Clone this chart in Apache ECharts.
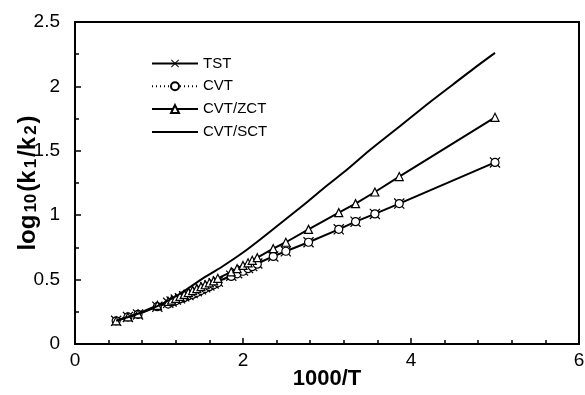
<!DOCTYPE html>
<html><head><meta charset="utf-8">
<script src="https://cdn.jsdelivr.net/npm/echarts@6/dist/echarts.min.js"></script>
<style>html,body{margin:0;padding:0;background:#fff}#c{width:585px;height:395px}</style>
</head><body><div id="c"></div>
<script>
const seriesNames = ['TST', 'CVT', 'CVT/ZCT', 'CVT/SCT'];
const xPts = [0.49, 0.63, 0.75, 0.98, 1.11, 1.15, 1.2, 1.25, 1.3, 1.35, 1.4, 1.45, 1.5, 1.55, 1.6, 1.65, 1.7, 1.86, 1.93, 2.0, 2.06, 2.11, 2.17, 2.36, 2.51, 2.78, 3.14, 3.34, 3.57, 3.86, 5.0];
const tstY = [0.18, 0.21, 0.23, 0.29, 0.32, 0.33, 0.345, 0.355, 0.37, 0.38, 0.395, 0.41, 0.425, 0.44, 0.455, 0.47, 0.485, 0.53, 0.55, 0.57, 0.59, 0.605, 0.625, 0.68, 0.72, 0.79, 0.89, 0.95, 1.01, 1.09, 1.41];
const cvtY = [0.18, 0.21, 0.23, 0.29, 0.31, 0.325, 0.335, 0.35, 0.36, 0.375, 0.385, 0.40, 0.415, 0.43, 0.445, 0.46, 0.475, 0.525, 0.545, 0.565, 0.585, 0.60, 0.62, 0.68, 0.72, 0.79, 0.89, 0.95, 1.01, 1.09, 1.41];
const zctY = [0.18, 0.21, 0.235, 0.30, 0.33, 0.34, 0.355, 0.37, 0.385, 0.40, 0.415, 0.43, 0.445, 0.46, 0.475, 0.49, 0.51, 0.56, 0.585, 0.61, 0.63, 0.65, 0.67, 0.74, 0.79, 0.89, 1.02, 1.09, 1.18, 1.30, 1.76];
const sctX = [0.49, 0.75, 1.0, 1.25, 1.5, 1.75, 2.0, 2.25, 2.5, 2.75, 3.0, 3.25, 3.5, 3.75, 4.0, 4.25, 4.5, 4.75, 5.0];
const sctY = [0.18, 0.235, 0.30, 0.39, 0.50, 0.60, 0.71, 0.835, 0.965, 1.095, 1.23, 1.36, 1.50, 1.63, 1.76, 1.89, 2.015, 2.14, 2.26];

const pair = (xs, ys) => xs.map((x, i) => [x, ys[i]]);
const FONT = '"Liberation Sans", Arial, sans-serif';
const crossPath = 'path://M0,0.8L0.8,0L5,4.2L9.2,0L10,0.8L5.8,5L10,9.2L9.2,10L5,5.8L0.8,10L0,9.2L4.2,5Z';
const plainLineIcon = 'path://M0,0L0.01,0L0.01,0.01Z M46,10L45.99,10L45.99,9.99Z M0,4H46V6H0Z';

const chart = echarts.init(document.getElementById('c'), null, {renderer: 'canvas'});
chart.setOption({
  animation: false,
  backgroundColor: '#fff',
  grid: {left: 75, right: 6, top: 22, bottom: 51, show: true, borderColor: '#000', borderWidth: 2,
         backgroundColor: 'transparent', containLabel: false, outerBoundsMode: 'none'},
  legend: {
    orient: 'vertical', left: 146, top: 50, itemWidth: 46, itemHeight: 10, itemGap: 5.8,
    data: [
      {name: 'TST'}, {name: 'CVT'}, {name: 'CVT/ZCT'},
      {name: 'CVT/SCT', icon: plainLineIcon, itemStyle: {color: '#000'}}
    ],
    textStyle: {fontFamily: FONT, fontSize: 15, color: '#000', lineHeight: 17}
  },
  xAxis: {
    type: 'value', min: 0, max: 6, interval: 2,
    name: '1000/T', nameLocation: 'middle', nameGap: 24, nameMoveOverlap: false,
    nameTextStyle: {fontFamily: FONT, fontSize: 22, fontWeight: 'bold', color: '#000'},
    axisLine: {show: true, lineStyle: {color: '#000', width: 2}},
    axisTick: {show: true, inside: true, length: 6, lineStyle: {color: '#000', width: 1.5}},
    minorTick: {show: true, splitNumber: 5, length: 4, lineStyle: {color: '#000', width: 1.5}},
    axisLabel: {fontFamily: FONT, fontSize: 19, color: '#000', margin: 7},
    splitLine: {show: false}
  },
  yAxis: {
    type: 'value', min: 0, max: 2.5, interval: 0.5,
    name: '{a|log}{s|10}{a|(k}{s|1}{a|/k}{s|2}{a|)}', nameLocation: 'middle', nameGap: 35, nameMoveOverlap: false,
    nameTextStyle: {
      fontFamily: FONT, color: '#000',
      rich: {
        a: {fontFamily: FONT, fontSize: 24, fontWeight: 'bold', color: '#000', lineHeight: 28, verticalAlign: 'bottom'},
        s: {fontFamily: FONT, fontSize: 17, fontWeight: 'bold', color: '#000', lineHeight: 26, verticalAlign: 'bottom', padding: [0, 2, 0, 2]}
      }
    },
    axisLine: {show: true, lineStyle: {color: '#000', width: 2}},
    axisTick: {show: true, inside: true, length: 6, lineStyle: {color: '#000', width: 1.5}},
    minorTick: {show: true, splitNumber: 2, length: 4, lineStyle: {color: '#000', width: 1.5}},
    axisLabel: {fontFamily: FONT, fontSize: 19, color: '#000', margin: 15},
    splitLine: {show: false}
  },
  series: [
    {
      name: 'TST', type: 'line', data: pair(xPts, tstY), z: 2,
      symbol: crossPath, symbolSize: 11, showAllSymbol: true,
      lineStyle: {color: '#000', width: 2},
      itemStyle: {color: '#000', borderWidth: 0}
    },
    {
      name: 'CVT', type: 'line', data: pair(xPts, cvtY), z: 3,
      symbol: 'circle', symbolSize: 8, showAllSymbol: true,
      lineStyle: {color: '#000', width: 1, type: [1, 3]},
      itemStyle: {color: '#fff', borderColor: '#000', borderWidth: 1.2}
    },
    {
      name: 'CVT/ZCT', type: 'line', data: pair(xPts, zctY), z: 4,
      symbol: 'triangle', symbolSize: 8, showAllSymbol: true,
      lineStyle: {color: '#000', width: 2},
      itemStyle: {color: '#fff', borderColor: '#000', borderWidth: 1.2}
    },
    {
      name: 'CVT/SCT', type: 'line', data: pair(sctX, sctY), z: 5,
      symbol: 'none', smooth: 0.3,
      lineStyle: {color: '#000', width: 2},
      itemStyle: {color: '#000'}
    }
  ]
});
</script></body></html>
